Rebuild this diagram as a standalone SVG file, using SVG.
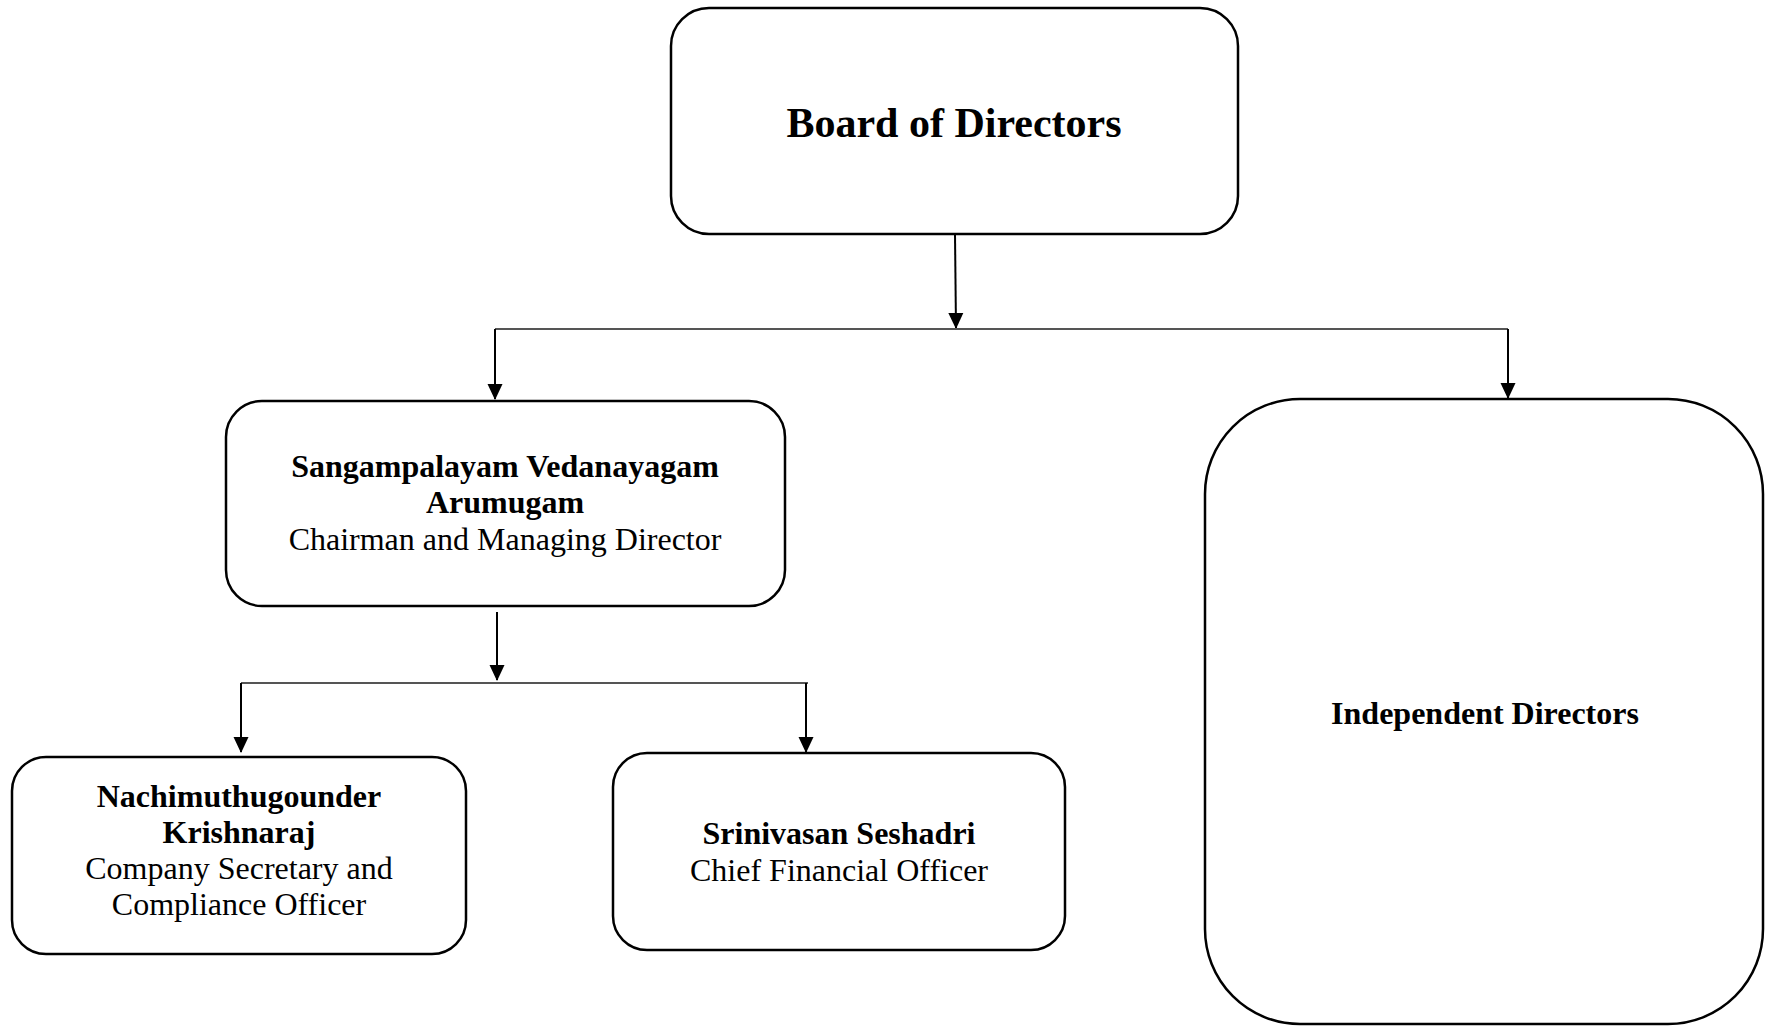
<svg xmlns="http://www.w3.org/2000/svg" width="1769" height="1027" viewBox="0 0 1769 1027">
<style>
.box{fill:#fff;stroke:#000;stroke-width:2.5}
.t{font-family:"Liberation Serif","Times New Roman",serif;fill:#000;text-anchor:middle}
.b{font-weight:bold}
.arr{stroke:#000;stroke-width:2;fill:none;marker-end:url(#ah)}
.bus{stroke:#555;stroke-width:2;fill:none}
</style>
<defs>
<marker id="ah" markerWidth="16" markerHeight="16" refX="15" refY="8" orient="auto" markerUnits="userSpaceOnUse">
<path d="M0,0.5 L16,8 L0,15.5 Z" fill="#000"/>
</marker>
</defs>
<rect width="1769" height="1027" fill="#fff"/>
<g id="connectors">
<line class="arr" x1="955" y1="234" x2="956" y2="328"/>
<line class="bus" x1="495" y1="329" x2="1508" y2="329"/>
<line class="arr" x1="495" y1="329" x2="495" y2="399"/>
<line class="arr" x1="1508" y1="329" x2="1508" y2="398"/>
<line class="arr" x1="497" y1="612" x2="497" y2="680"/>
<line class="bus" x1="241" y1="683" x2="808" y2="683"/>
<line class="arr" x1="241" y1="683" x2="241" y2="752"/>
<line class="arr" x1="806" y1="683" x2="806" y2="752"/>
</g>
<g id="board">
<rect class="box" x="671" y="8" width="567" height="226" rx="38" ry="38"/>
<text class="t b" x="954" y="137" font-size="42">Board of Directors</text>
</g>
<g id="chairman">
<rect class="box" x="226" y="401" width="559" height="205" rx="36" ry="36"/>
<text class="t b" x="505" y="477" font-size="32">Sangampalayam Vedanayagam</text>
<text class="t b" x="505" y="513" font-size="32">Arumugam</text>
<text class="t" x="505" y="550" font-size="32">Chairman and Managing Director</text>
</g>
<g id="independent">
<rect class="box" x="1205" y="399" width="558" height="625" rx="95" ry="95"/>
<text class="t b" x="1485" y="724" font-size="32">Independent Directors</text>
</g>
<g id="secretary">
<rect class="box" x="12" y="757" width="454" height="197" rx="34" ry="34"/>
<text class="t b" x="239" y="807" font-size="32">Nachimuthugounder</text>
<text class="t b" x="239" y="843" font-size="32">Krishnaraj</text>
<text class="t" x="239" y="879" font-size="32">Company Secretary and</text>
<text class="t" x="239" y="915" font-size="32">Compliance Officer</text>
</g>
<g id="cfo">
<rect class="box" x="613" y="753" width="452" height="197" rx="34" ry="34"/>
<text class="t b" x="839" y="844" font-size="32">Srinivasan Seshadri</text>
<text class="t" x="839" y="881" font-size="32">Chief Financial Officer</text>
</g>
</svg>
